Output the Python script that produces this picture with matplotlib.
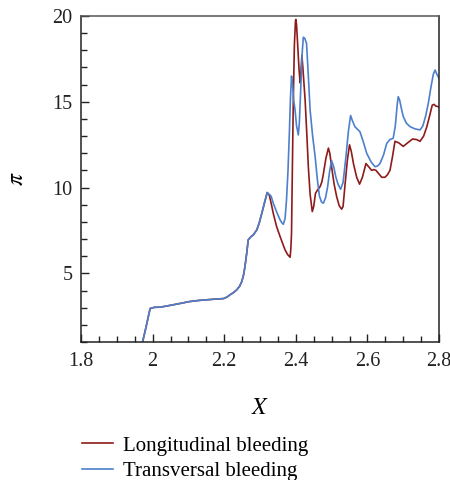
import matplotlib
matplotlib.use("Agg")
import matplotlib.pyplot as plt
from matplotlib.ticker import MultipleLocator

plt.rcParams['font.family'] = ['Liberation Serif', 'DejaVu Serif']
plt.rcParams['mathtext.fontset'] = 'stix'

# Shared part of both curves (up to the first peak)
x_common = [1.965, 1.972, 1.982, 1.993, 2.005, 2.021, 2.040, 2.058, 2.080, 2.104, 2.128, 2.151,
            2.175, 2.198, 2.208, 2.216, 2.226, 2.235, 2.243, 2.249, 2.254, 2.258, 2.263,
            2.267, 2.274, 2.281, 2.291, 2.298, 2.305, 2.313, 2.320]
y_common = [0.7, 1.0, 1.9, 2.95, 3.02, 3.03, 3.10, 3.17, 3.26, 3.36, 3.42, 3.46,
            3.50, 3.53, 3.62, 3.75, 3.88, 4.04, 4.25, 4.52, 4.90, 5.40, 6.20,
            6.95, 7.12, 7.24, 7.53, 7.95, 8.50, 9.15, 9.71]

# Longitudinal bleeding after the shared part
x_long = [2.326, 2.331, 2.337, 2.346, 2.356, 2.364, 2.370, 2.377, 2.384, 2.386, 2.388, 2.390,
          2.393, 2.396, 2.399, 2.400, 2.402, 2.405, 2.409, 2.412, 2.414, 2.417, 2.420,
          2.426, 2.431, 2.435, 2.440, 2.446, 2.450, 2.455, 2.462, 2.468, 2.473, 2.477,
          2.484, 2.491, 2.495, 2.500, 2.507, 2.514, 2.521, 2.528, 2.532, 2.537, 2.544,
          2.550, 2.555, 2.561, 2.570, 2.578, 2.586, 2.596, 2.604, 2.612, 2.618, 2.624,
          2.632, 2.640, 2.649, 2.656, 2.663, 2.670, 2.677, 2.688, 2.700, 2.712, 2.726,
          2.737, 2.747, 2.757, 2.766, 2.774, 2.781, 2.786, 2.791, 2.800]
y_long = [9.55, 9.1, 8.50, 7.75, 7.15, 6.70, 6.37, 6.10, 5.94, 6.40, 7.30, 10.5,
          15.1, 18.3, 19.7, 19.8, 19.5, 18.4, 16.9, 16.1, 16.6, 17.7, 16.9,
          15.1, 13.0, 11.2, 9.6, 8.6, 8.9, 9.67, 9.90, 10.06, 10.35, 10.8,
          11.7, 12.3, 12.0, 11.2, 10.2, 9.48, 8.95, 8.74, 8.90, 10.06, 11.6,
          12.49, 12.1, 11.4, 10.6, 10.2, 10.6, 11.4, 11.2, 11.0, 11.05, 11.0,
          10.8, 10.6, 10.6, 10.75, 11.0, 11.8, 12.7, 12.6, 12.4, 12.6, 12.83,
          12.8, 12.7, 13.0, 13.55, 14.2, 14.8, 14.85, 14.75, 14.7]

# Transversal bleeding after the shared part
x_trans = [2.326, 2.331, 2.337, 2.346, 2.356, 2.361, 2.365, 2.370, 2.374, 2.378, 2.382, 2.385,
           2.388, 2.391, 2.394, 2.398, 2.402, 2.407, 2.410, 2.414, 2.418, 2.421, 2.425,
           2.430, 2.435, 2.440, 2.447, 2.454, 2.460, 2.466, 2.472, 2.477, 2.483, 2.489,
           2.494, 2.500, 2.506, 2.512, 2.518, 2.525, 2.532, 2.540, 2.547, 2.553, 2.558,
           2.565, 2.572, 2.579, 2.588, 2.598, 2.610, 2.621, 2.628, 2.635, 2.645, 2.654,
           2.663, 2.672, 2.678, 2.683, 2.686, 2.690, 2.695, 2.700, 2.709, 2.719, 2.733,
           2.747, 2.755, 2.763, 2.770, 2.777, 2.784, 2.789, 2.794, 2.800]
y_trans = [9.6, 9.5, 9.09, 8.6, 8.12, 7.95, 7.86, 8.2, 9.28, 10.9, 13.2, 15.2,
           16.5, 16.0, 15.1, 14.5, 13.6, 13.07, 13.8, 15.9, 17.9, 18.76, 18.7,
           18.4, 16.5, 14.5, 13.0, 11.8, 10.5, 9.5, 9.15, 9.09, 9.4, 10.06,
           10.9, 11.57, 11.2, 10.6, 10.2, 9.9, 10.3, 11.8, 13.3, 14.2, 13.9,
           13.55, 13.4, 13.26, 12.7, 12.0, 11.5, 11.22, 11.25, 11.4, 11.9, 12.58,
           12.8, 12.87, 13.6, 14.8, 15.3, 15.1, 14.6, 14.14, 13.75, 13.55, 13.42,
           13.36, 13.6, 14.2, 14.9, 15.8, 16.6, 16.85, 16.6, 16.37]

red = "#8e1b1b"
blue = "#4d80cc"

fig = plt.figure(figsize=(4.5, 4.8), dpi=100)
ax = fig.add_axes([0.18, 0.2875, 0.7956, 0.6792])

ax.plot(x_common + x_long, y_common + y_long, color=red, lw=1.2, label="Longitudinal bleeding")
ax.plot(x_common + x_trans, y_common + y_trans, color=blue, lw=1.2, label="Transversal bleeding")

ax.set_xlim(1.8, 2.8)
ax.set_ylim(1, 20)
ax.set_xticks([1.8, 2.0, 2.2, 2.4, 2.6, 2.8])
ax.set_xticklabels(["1.8", "2", "2.2", "2.4", "2.6", "2.8"])
ax.xaxis.set_minor_locator(MultipleLocator(0.05))
ax.set_yticks([5, 10, 15, 20])
ax.yaxis.set_minor_locator(MultipleLocator(1))
ax.tick_params(which="both", direction="in", top=False, right=False, labelsize=14.5, colors="#222222")
ax.tick_params(which="major", length=6, width=1)
ax.tick_params(which="minor", length=4, width=1)
ax.tick_params(axis="x", pad=7)
ax.tick_params(axis="y", pad=6)
for side in ["left", "bottom", "right"]:
    ax.spines[side].set_color("#222222")
    ax.spines[side].set_linewidth(1.1)
ax.spines["top"].set_color("#555555")
ax.spines["top"].set_linewidth(1.1)

ax.set_xlabel("$X$", fontsize=17, labelpad=20)
ax.set_ylabel("$\\pi$", fontsize=17, labelpad=18)

fig.legend(loc="upper left", bbox_to_anchor=(0.164, 0.109), frameon=False, fontsize=15,
           handlelength=1.5, handletextpad=0.45, labelspacing=0.3, borderaxespad=0)

fig.savefig("out.png", dpi=100)
